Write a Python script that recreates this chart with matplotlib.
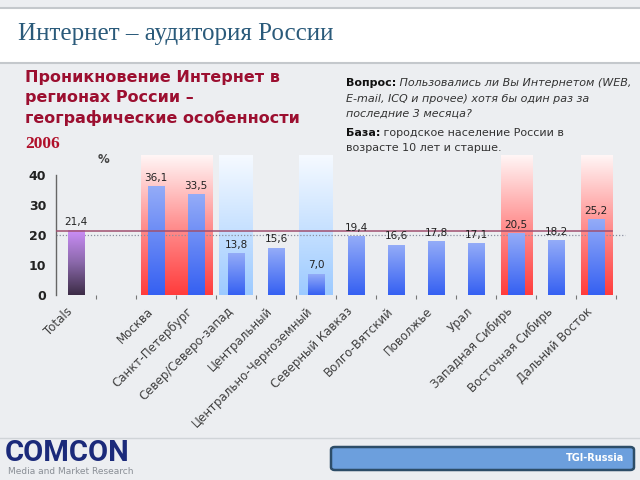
import numpy as np
import matplotlib
matplotlib.use("Agg")
import matplotlib.pyplot as plt
from matplotlib.colors import LinearSegmentedColormap, to_rgba
from matplotlib.patches import FancyBboxPatch, Rectangle
from matplotlib.lines import Line2D
from matplotlib.transforms import ScaledTranslation

# ---------------- data ----------------
categories = ["Totals", "Москва", "Санкт-Петербург", "Север/Северо-запад", "Центральный",
              "Центрально-Черноземный", "Северный Кавказ", "Волго-Вятский", "Поволжье",
              "Урал", "Западная Сибирь", "Восточная Сибирь", "Дальний Восток"]
values = [21.4, 36.1, 33.5, 13.8, 15.6, 7.0, 19.4, 16.6, 17.8, 17.1, 20.5, 18.2, 25.2]
slots = [0, 2, 3, 4, 5, 6, 7, 8, 9, 10, 11, 12, 13]
y_ticks = [0, 10, 20, 30, 40]
red_bands = [(2, 3), (11, 11), (13, 13)]
blue_bands = [(4, 4), (6, 6)]
total_value = values[0]

# ---------------- figure ----------------
fig = plt.figure(figsize=(6.4, 4.8), dpi=100)
fig.patch.set_facecolor("#eceef1")

def px(x, y):
    return x / 640, 1 - y / 480

# ---------------- axes ----------------
ax = fig.add_axes([56 / 640, 1 - 295 / 480, 560 / 640, 140 / 480])
ax.set_facecolor("none")
YTOP = 140 / 3.0

# header white band
fig.patches.append(Rectangle((0, 1 - 63 / 480), 1, 55 / 480, transform=fig.transFigure,
                             facecolor="white", edgecolor="none", zorder=0))
for yy in (8, 63):
    fig.add_artist(Line2D([0, 1], [1 - yy / 480] * 2, transform=fig.transFigure,
                          color="#c4c8cc", lw=1.5))
# footer divider
fig.add_artist(Line2D([0, 1], [1 - 438 / 480] * 2, transform=fig.transFigure,
                      color="#d0d4d8", lw=1))

fig.text(*px(18, 34), "Интернет – аудитория России", family="Liberation Serif",
         fontsize=18, color="#2a5a7a", va="center", ha="left")

fig.text(*px(25, 70), "Проникновение Интернет в\nрегионах России –\nгеографические особенности",
         family="DejaVu Sans", fontweight="bold", fontsize=11.5, color="#9c0f30",
         va="top", ha="left", linespacing=1.42)
fig.text(*px(25, 144), "2006", family="Liberation Serif", fontweight="bold",
         fontsize=12.5, color="#b0102a", va="center", ha="left")

# right-side question text
tc = "#333333"
b1 = fig.text(*px(346, 83), "Вопрос:", family="DejaVu Sans", fontweight="bold",
              fontsize=8, color="#111111", va="center", ha="left")
ax.annotate(" Пользовались ли Вы Интернетом (WEB,", xy=(1, 0.5), xycoords=b1,
            va="center", ha="left", fontsize=8, style="italic", color=tc,
            family="DejaVu Sans", annotation_clip=False)
fig.text(*px(346, 99), "E-mail, ICQ и прочее) хотя бы один раз за", family="DejaVu Sans",
         fontsize=8, style="italic", color=tc, va="center", ha="left")
fig.text(*px(346, 114), "последние 3 месяца?", family="DejaVu Sans",
         fontsize=8, style="italic", color=tc, va="center", ha="left")
b2 = fig.text(*px(346, 133), "База:", family="DejaVu Sans", fontweight="bold",
              fontsize=8, color="#111111", va="center", ha="left")
ax.annotate(" городское население России в", xy=(1, 0.5), xycoords=b2,
            va="center", ha="left", fontsize=8, color=tc, family="DejaVu Sans",
            annotation_clip=False)
fig.text(*px(346, 148), "возрасте 10 лет и старше.", family="DejaVu Sans",
         fontsize=8, color=tc, va="center", ha="left")

fig.text(*px(104, 160), "%", family="DejaVu Sans", fontsize=8.5, fontweight="bold",
         color="#444444", va="center", ha="center")

def vgrad(x0, x1, y0, y1, c_bottom, c_top, z, mid=None):
    cols = [c_bottom] + ([mid] if mid else []) + [c_top]
    cmap = LinearSegmentedColormap.from_list("g", [to_rgba(c) for c in cols])
    g = np.linspace(0, 1, 256).reshape(-1, 1)
    ax.imshow(g, extent=[x0, x1, y0, y1], origin="lower", cmap=cmap, aspect="auto",
              zorder=z, interpolation="bilinear")

# background bands
for a, b in red_bands:
    vgrad(a - 0.38, b + 0.42, 0, YTOP, "#ff3c3c", "#fff6f6", 1, mid="#ff9090")
for a, b in blue_bands:
    vgrad(a - 0.42, b + 0.42, 0, YTOP, "#9ccaff", "#f6faff", 1)

# bars
bars = ax.bar(slots, values, width=0.42, facecolor="none", edgecolor="none", zorder=3)
for i, p in enumerate(bars.patches):
    x0, y0 = p.get_x(), p.get_y()
    x1, y1 = x0 + p.get_width(), y0 + p.get_height()
    if i == 0:
        vgrad(x0, x1, y0, y1, "#3c2c46", "#cc8ef8", 3, mid="#8a68aa")
    else:
        vgrad(x0, x1, y0, y1, "#3560f2", "#94acf8", 3)
    ax.text(p.get_x() + p.get_width() / 2, y1 + 1.3, f"{values[i]:.1f}".replace(".", ","),
            ha="center", va="bottom", fontsize=7.5, color="#222222",
            family="DejaVu Sans", zorder=5)

ax.set_xlim(-0.5, 13.5)
ax.set_ylim(0, YTOP)

# reference lines
ax.axhline(20, xmin=0, xmax=1.016, color="#8a8fa0", lw=0.9, ls=(0, (1, 1.5)),
           zorder=2, clip_on=False)
ax.axhline(total_value, xmin=0, xmax=0.993, color="#a05070", lw=1.3, alpha=0.85, zorder=4)

# spines and ticks
for s in ("top", "right", "bottom"):
    ax.spines[s].set_visible(False)
ax.spines["left"].set_bounds(0, 40)
ax.spines["left"].set_color("#666666")
ax.spines["left"].set_linewidth(1)
ax.set_yticks(y_ticks)
ax.set_yticklabels([str(v) for v in y_ticks], fontsize=9, fontweight="bold", color="#222222")
ax.tick_params(axis="y", length=0, pad=7)

ax.set_xticks(slots)
ax.set_xticklabels(categories, rotation=45, ha="right", rotation_mode="anchor",
                   fontsize=8.5, color="#404040")
ax.tick_params(axis="x", which="major", length=0, pad=7)
ax.set_xticks(np.arange(0.5, 14, 1.0), minor=True)
ax.tick_params(axis="x", which="minor", length=3, color="#777777", width=0.8, direction="out")
for lab in ax.get_xticklabels():
    lab.set_transform(lab.get_transform() + ScaledTranslation(-7 / 72, 0, fig.dpi_scale_trans))

# ---------------- footer ----------------
fig.text(*px(5, 453), "COMCON", family="Roboto", fontweight="bold", fontsize=21,
         color="#1b2a7a", va="center", ha="left")
fig.text(*px(8, 472), "Media and Market Research", family="DejaVu Sans", fontsize=6.5,
         color="#8a8f96", va="center", ha="left")
box = FancyBboxPatch((331 / 640, 1 - 470 / 480), 303 / 640, 23 / 480,
                     boxstyle="round,pad=0,rounding_size=0.006", transform=fig.transFigure,
                     facecolor="#6c9fdd", edgecolor="#2d4d68", linewidth=1.8)
fig.patches.append(box)
fig.text(*px(624, 458), "TGI-Russia", family="DejaVu Sans", fontweight="bold", fontsize=7,
         color="white", va="center", ha="right")

fig.savefig("out.png", dpi=100, facecolor=fig.get_facecolor())
